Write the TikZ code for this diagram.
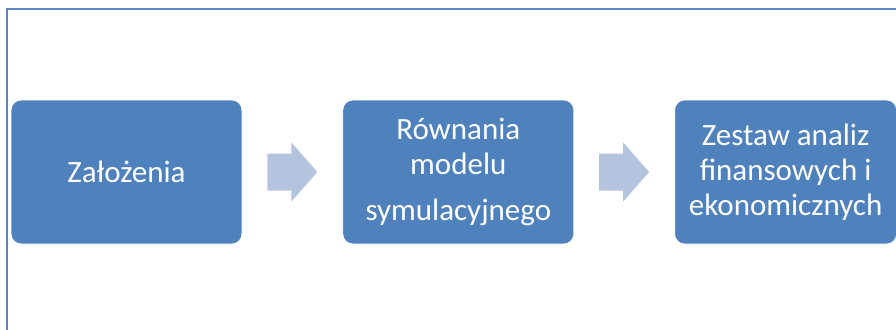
\documentclass[tikz,border=0pt]{standalone}
\usepackage{fontspec}
\setmainfont{Carlito}
\usepackage{xcolor}
\usepackage{tikz}
\usetikzlibrary{positioning,calc}

\definecolor{boxblue}{HTML}{4F81BD}
\definecolor{arrowblue}{HTML}{B4C3DE}
\definecolor{frameblue}{HTML}{5A87C2}

\begin{document}
\begin{tikzpicture}[x=1pt, y=-1pt,
    stage/.style={fill=boxblue, draw=white, line width=0.8pt, rounded corners=10pt, align=center, text=white,
      minimum width=231pt, minimum height=144pt, inner sep=0pt, font=\fontsize{31}{35}\selectfont},
    flow/.pic={\fill[arrowblue] (-25,-18.5) -- (-1,-18.5) -- (-1,-29.5) -- (25,0) -- (-1,29.5) -- (-1,18.5) -- (-25,18.5) -- cycle;}
  ]
    \useasboundingbox (0,0) rectangle (896,329);
    \draw[frameblue, line width=2pt] (7,9) rectangle (910,340);
    \node[stage] (zal) at (126.5,172) {Założenia};
    \node[stage, right=100pt of zal] (rown) {Równania\\modelu\\[11pt]symulacyjnego};
    \node[stage, right=100pt of rown, minimum width=222pt] (zest) {Zestaw analiz\\finansowych i\\ekonomicznych};
    \pic at ($(zal.east)!0.5!(rown.west)$) {flow};
    \pic at ($(rown.east)!0.5!(zest.west)$) {flow};
  \end{tikzpicture}
\end{document}
